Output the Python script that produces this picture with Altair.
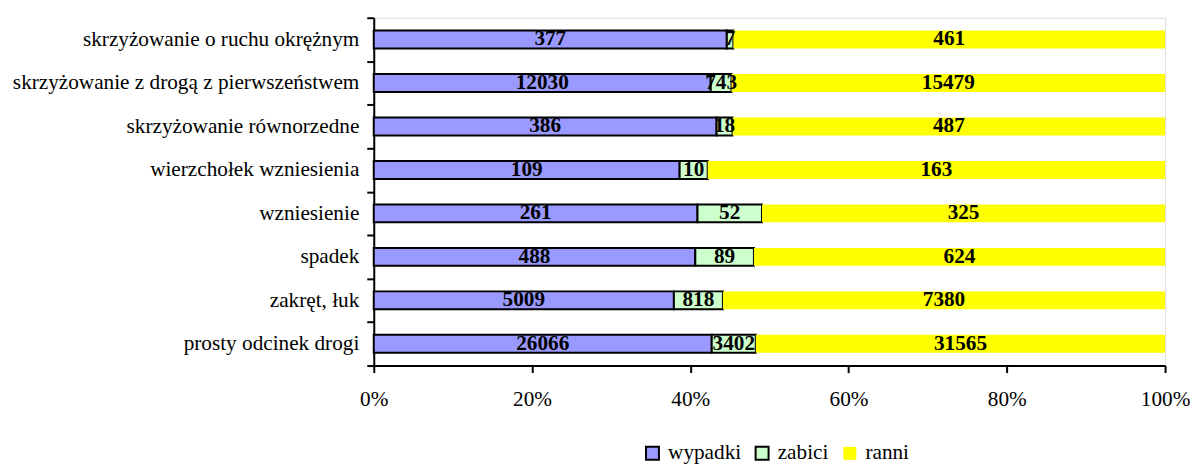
import altair as alt
import pandas as pd

categories = [
    "skrzyżowanie o ruchu okrężnym",
    "skrzyżowanie z drogą z pierwszeństwem",
    "skrzyżowanie równorzedne",
    "wierzchołek wzniesienia",
    "wzniesienie",
    "spadek",
    "zakręt, łuk",
    "prosty odcinek drogi",
]
wypadki = [377, 12030, 386, 109, 261, 488, 5009, 26066]
zabici = [7, 743, 18, 10, 52, 89, 818, 3402]
ranni = [461, 15479, 487, 163, 325, 624, 7380, 31565]
series = ["wypadki", "zabici", "ranni"]
colors = ["#9999FF", "#CCFFCC", "#FFFF00"]

rows = []
for i, c in enumerate(categories):
    for j, (s, vals) in enumerate(zip(series, [wypadki, zabici, ranni])):
        rows.append({"cat": c, "series": s, "order": j, "value": vals[i]})
df = pd.DataFrame(rows)

FONT = "Liberation Serif"
FS = 21.3

base = alt.Chart(df).transform_stack(
    stack="value", groupby=["cat"], as_=["x0", "x1"], offset="normalize",
    sort=[alt.SortField("order", order="ascending")]
).transform_calculate(mid="(datum.x0 + datum.x1) / 2")

y_enc = alt.Y("cat:N", sort=categories, title=None,
              scale=alt.Scale(paddingInner=0, paddingOuter=0),
              axis=alt.Axis(labelFont=FONT, labelFontSize=FS, labelColor="black",
                            domainColor="black", domainWidth=2, tickColor="black",
                            tickWidth=2, tickSize=7, tickBand="extent",
                            labelPadding=8, minExtent=360, maxExtent=360,
                            labelLimit=400))

bars = base.mark_bar(strokeWidth=2, size=18).encode(
    x=alt.X("x0:Q", title=None, scale=alt.Scale(domain=[0, 1]),
            axis=alt.Axis(format="%", values=[0, 0.2, 0.4, 0.6, 0.8, 1.0],
                          labelFont=FONT, labelFontSize=FS, labelColor="black",
                          labelFlush=False,
                          domainColor="black", domainWidth=2, tickColor="black",
                          tickWidth=2, tickSize=7, labelPadding=16, grid=False)),
    x2="x1:Q",
    y=y_enc,
    fill=alt.Fill("series:N", scale=alt.Scale(domain=series, range=colors),
                  title=None,
                  legend=alt.Legend(orient="none", legendX=269, legendY=426,
                                    direction="horizontal", symbolType="square",
                                    symbolSize=169, symbolStrokeWidth=2,
                                    labelFont=FONT, labelFontSize=FS,
                                    labelColor="black", columnPadding=10,
                                    labelOffset=5, symbolOpacity=1)),
    stroke=alt.Stroke("series:N", scale=alt.Scale(domain=series,
                      range=["black", "black", "transparent"]), title=None),
)

text = base.mark_text(font=FONT, fontSize=FS, fontWeight="bold", color="black").encode(
    x="mid:Q",
    y=alt.Y("cat:N", sort=categories),
    text="value:Q",
)

chart = alt.layer(bars, text).properties(
    width=794, height=349,
    padding={"left": 4, "top": -2, "right": 0, "bottom": 0},
).configure_view(stroke=None).configure(background="white")

chart.save("out.html", embed_options={"renderer": "svg", "actions": False})
